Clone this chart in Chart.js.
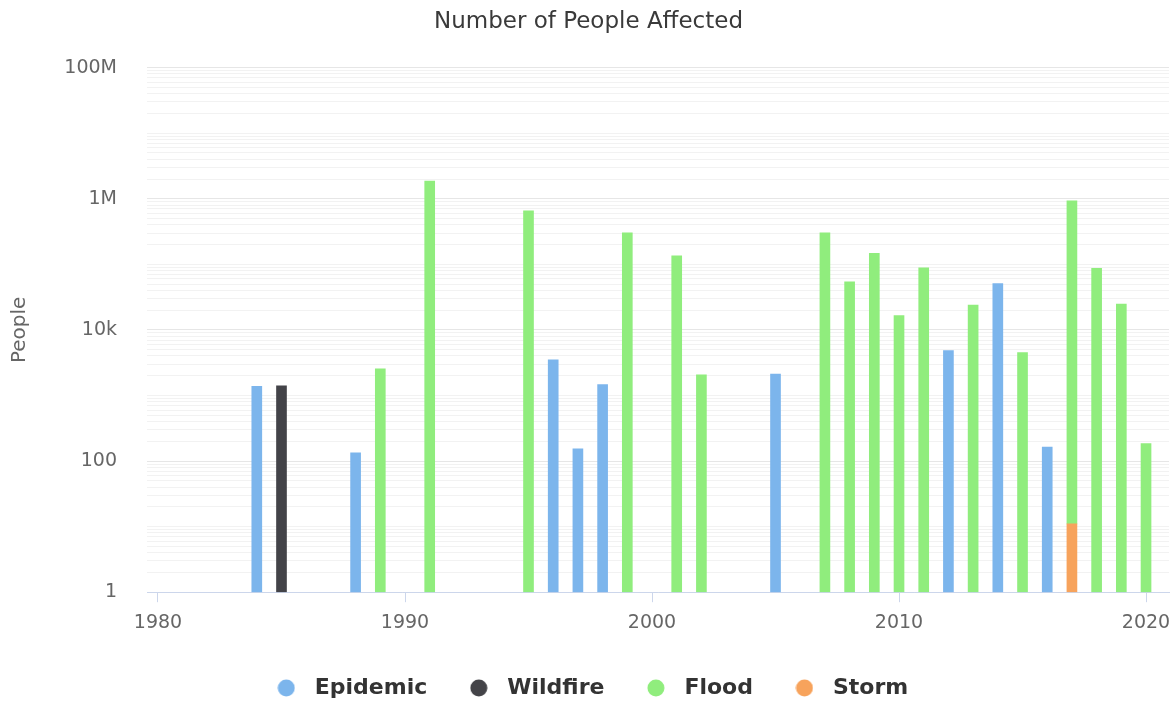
<!DOCTYPE html>
<html>
<head>
<meta charset="utf-8">
<script src="https://cdn.jsdelivr.net/npm/chart.js@4.4.1/dist/chart.umd.min.js"></script>
<style>
  html, body { margin: 0; padding: 0; background: #ffffff; }
  #wrap { width: 1175px; height: 704px; }
</style>
</head>
<body>
<div id="wrap"><canvas id="chart" width="1175" height="704"></canvas></div>
<script>
// People affected per year, by disaster type
const epidemicYears  = [1984, 1988, 1996, 1997, 1998, 2005, 2012, 2014, 2016];
const epidemicValues = [1380, 133, 3500, 153, 1460, 2120, 4850, 51000, 164];

const wildfireYears  = [1985];
const wildfireValues = [1400];

const floodYears  = [1989, 1991, 1995, 1999, 2001, 2002, 2007, 2008, 2009, 2010, 2011, 2013, 2015, 2017, 2018, 2019, 2020];
const floodValues = [2550, 1860000, 653000, 302000, 135000, 2070, 302000, 54000, 147000, 16500, 88700, 24000, 4520, 926000, 86700, 24800, 185];

const stormYears  = [2017];
const stormValues = [11];

const xTickYears   = [1980, 1990, 2000, 2010, 2020];
const yMajorTicks  = [1, 100, 1e4, 1e6, 1e8];
const yMajorLabels = ['1', '100', '10k', '1M', '100M'];

const FONT = "'DejaVu Sans', Verdana, sans-serif";

function points(years, values) {
  return years.map((x, i) => ({ x: x, y: values[i] }));
}

// round legend markers
function dot(color) {
  const c = document.createElement('canvas');
  c.width = 18; c.height = 18;
  const g = c.getContext('2d');
  g.fillStyle = color;
  g.beginPath();
  g.arc(9, 9, 8.5, 0, Math.PI * 2);
  g.fill();
  return c;
}

const seriesColors = ['#7cb5ec', '#434348', '#90ed7d', '#f7a35c'];
const legendDots = seriesColors.map(dot);

const barCommon = { barThickness: 10, borderWidth: 0 };

const chart = new Chart(document.getElementById('chart'), {
  type: 'bar',
  data: {
    datasets: [
      Object.assign({ label: 'Epidemic', data: points(epidemicYears, epidemicValues), backgroundColor: seriesColors[0], order: 1 }, barCommon),
      Object.assign({ label: 'Wildfire', data: points(wildfireYears, wildfireValues), backgroundColor: seriesColors[1], order: 1 }, barCommon),
      Object.assign({ label: 'Flood',    data: points(floodYears, floodValues),       backgroundColor: seriesColors[2], order: 1 }, barCommon),
      // storms stack underneath floods
      Object.assign({ label: 'Storm',    data: points(stormYears, stormValues),       backgroundColor: seriesColors[3], order: 0 }, barCommon)
    ]
  },
  options: {
    responsive: false,
    devicePixelRatio: 1,
    animation: false,
    layout: { padding: { left: 8, right: 6, top: 0, bottom: -5 } },
    plugins: {
      title: {
        display: true,
        text: 'Number of People Affected',
        color: '#3a3a3a',
        font: { family: FONT, size: 23, weight: 'normal' },
        padding: { top: 8, bottom: 32 }
      },
      legend: {
        position: 'bottom',
        labels: {
          usePointStyle: true,
          pointStyleWidth: 35,
          padding: 34,
          color: '#333333',
          font: { family: FONT, size: 22, weight: 'bold' },
          sort: (a, b) => a.datasetIndex - b.datasetIndex,
          generateLabels: (c) => Chart.defaults.plugins.legend.labels.generateLabels(c).map(item => {
            item.pointStyle = legendDots[item.datasetIndex];
            return item;
          })
        }
      },
      tooltip: { enabled: false }
    },
    scales: {
      x: {
        type: 'linear',
        stacked: true,
        offset: false,
        min: 1979.555,
        max: 2020.93,
        afterBuildTicks: (scale) => { scale.ticks = xTickYears.map(v => ({ value: v })); },
        afterFit: (scale) => { scale.paddingLeft = 0; scale.paddingRight = 0; },
        ticks: {
          color: '#666666',
          font: { family: FONT, size: 19 },
          padding: 9,
          maxRotation: 0,
          autoSkip: false,
          callback: (v) => String(v)
        },
        grid: {
          offset: false,
          drawOnChartArea: false,
          drawTicks: true,
          tickLength: 10,
          tickColor: '#ccd6eb'
        },
        border: { display: true, color: '#ccd6eb', width: 1 }
      },
      y: {
        type: 'logarithmic',
        stacked: true,
        min: 1,
        max: 1e8,
        afterBuildTicks: (scale) => {
          const t = [];
          for (let k = 0; k < 8; k++) {
            for (let m = 1; m < 10; m++) t.push({ value: m * Math.pow(10, k) });
          }
          t.push({ value: 1e8 });
          scale.ticks = t;
        },
        afterFit: (scale) => { scale.width = 139; },
        ticks: {
          color: '#666666',
          font: { family: FONT, size: 19 },
          padding: 30,
          autoSkip: false,
          callback: (v) => {
            const i = yMajorTicks.indexOf(v);
            return i >= 0 ? yMajorLabels[i] : '';
          }
        },
        grid: {
          drawTicks: false,
          color: (ctx) => (ctx.tick && yMajorTicks.indexOf(ctx.tick.value) >= 0) ? '#e6e6e6' : '#f2f2f2'
        },
        border: { display: false },
        title: {
          display: true,
          text: 'People',
          color: '#666666',
          font: { family: FONT, size: 20 },
          padding: 0
        }
      }
    }
  }
});
</script>
</body>
</html>
